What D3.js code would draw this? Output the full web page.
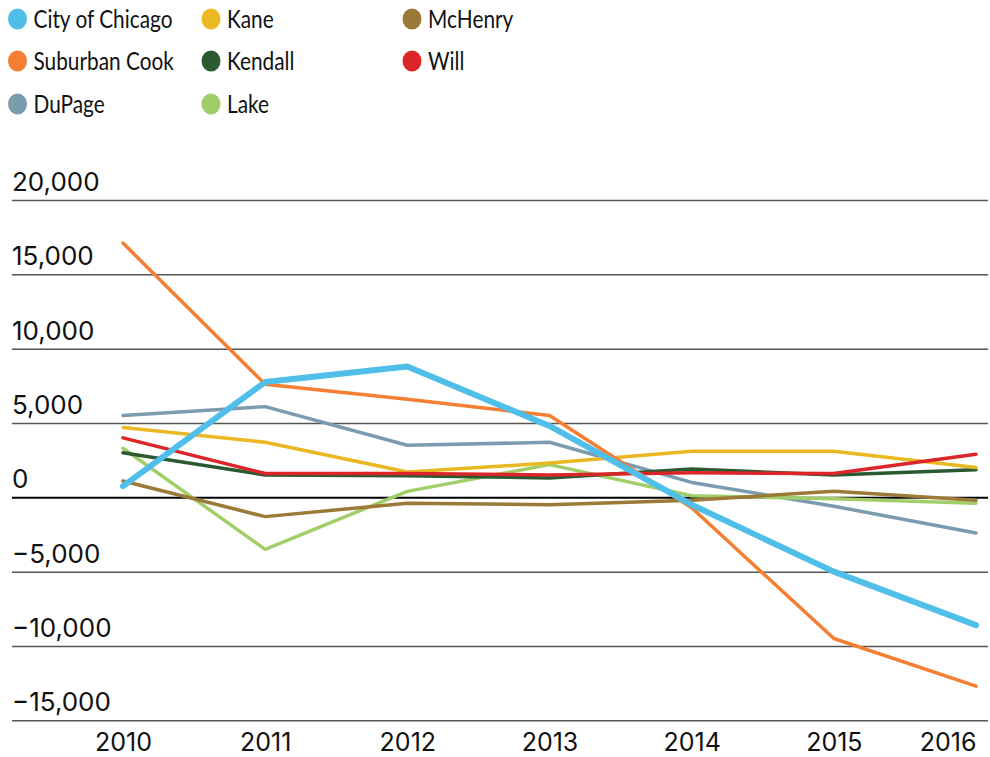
<!DOCTYPE html>
<html><head><meta charset="utf-8">
<script src="https://cdn.jsdelivr.net/npm/d3@7"></script>
<style>
html,body{margin:0;padding:0;background:#fff;}
svg{display:block;}
</style></head>
<body>
<svg id="chart" width="990" height="757"></svg>
<script>
const years = [2010, 2011, 2012, 2013, 2014, 2015, 2016];
const yTicks = [-15000, -10000, -5000, 0, 5000, 10000, 15000, 20000];

const seriesNames = ["City of Chicago", "Suburban Cook", "DuPage", "Kane", "Kendall", "Lake", "McHenry", "Will"];
const seriesColors = ["#4fbfea", "#f47f32", "#7b9cae", "#e9b822", "#2a5a31", "#a2ce6a", "#9b7937", "#db2529"];

const chicago      = [750, 7750, 8800, 4800, -500, -5000, -8600];
const suburbanCook = [17100, 7600, 6600, 5500, -700, -9500, -12700];
const dupage       = [5500, 6100, 3500, 3700, 1000, -600, -2400];
const kane         = [4700, 3700, 1700, 2300, 3100, 3100, 2000];
const kendall      = [3000, 1500, 1450, 1300, 1900, 1500, 1850];
const lake         = [3300, -3500, 400, 2200, 100, -100, -400];
const mchenry      = [1100, -1300, -400, -500, -200, 400, -200];
const will         = [4000, 1600, 1600, 1500, 1650, 1600, 2900];

const seriesValues = [chicago, suburbanCook, dupage, kane, kendall, lake, mchenry, will];

const svg = d3.select("#chart");

const x = d3.scalePoint().domain(years).range([123, 976]);
const y = d3.scaleLinear().domain([0, 20000]).range([497.3, 200]);

const legendFont = "Lato, 'Open Sans', sans-serif";
const axisFont = "Inter, Lato, sans-serif";

// gridlines + y labels
const yAxis = d3.axisRight(y).tickValues(yTicks).tickSize(976).tickFormat(d3.format(","));
const gy = svg.append("g").attr("transform", "translate(12,0)").call(yAxis);
gy.select(".domain").remove();
gy.selectAll(".tick line")
  .attr("stroke", d => d === 0 ? "#000" : "#555")
  .attr("stroke-width", d => d === 0 ? 2 : 1.5);
gy.selectAll(".tick text")
  .attr("x", 0).attr("y", -2).attr("dy", -7.5)
  .attr("text-anchor", "start")
  .attr("font-family", axisFont).attr("font-size", 26)
  .attr("fill", "#111");

// x labels
const xAxis = d3.axisBottom(x).tickSize(0).tickFormat(d3.format("d"));
const gx = svg.append("g").attr("transform", "translate(0,733)").call(xAxis);
gx.select(".domain").remove();
gx.selectAll(".tick text")
  .attr("y", 0).attr("dy", "0.72em")
  .attr("font-family", axisFont).attr("font-size", 25)
  .attr("fill", "#111")
  .attr("text-anchor", (d, i) => i === years.length - 1 ? "end" : "middle");

// lines
const line = d3.line().x((d, i) => x(years[i])).y(d => y(d));
const drawOrder = [2, 5, 6, 4, 3, 7, 1, 0];
drawOrder.forEach(k => {
  svg.append("path")
    .datum(seriesValues[k])
    .attr("d", line)
    .attr("fill", "none")
    .attr("stroke", seriesColors[k])
    .attr("stroke-width", k === 0 ? 6 : 3.5)
    .attr("stroke-linejoin", "round")
    .attr("stroke-linecap", "round");
});

// legend (condensed look via horizontal scaling)
const legendCols = [0, 0, 0, 1, 1, 1, 2, 2];
const legendRows = [0, 1, 2, 0, 1, 2, 0, 1];
const colX = [17.5, 211, 412];
const rowY = [19, 61, 104];
const lg = svg.append("g");
const texts = [];
seriesNames.forEach((name, i) => {
  const cx = colX[legendCols[i]], cy = rowY[legendRows[i]];
  lg.append("ellipse").attr("cx", cx).attr("cy", cy).attr("rx", 9.5).attr("ry", 10.5)
    .attr("fill", seriesColors[i]);
  const t = lg.append("text")
    .attr("font-family", legendFont).attr("font-size", 25)
    .attr("fill", "#111").text(name);
  texts.push({t, x: cx + 16, y: cy + 9});
});
const refLen = texts[0].t.node().getComputedTextLength();
const sx = Math.min(1, 139 / refLen);
texts.forEach(o => o.t.attr("transform", `translate(${o.x},${o.y}) scale(${sx},1)`));
</script>
</body></html>
